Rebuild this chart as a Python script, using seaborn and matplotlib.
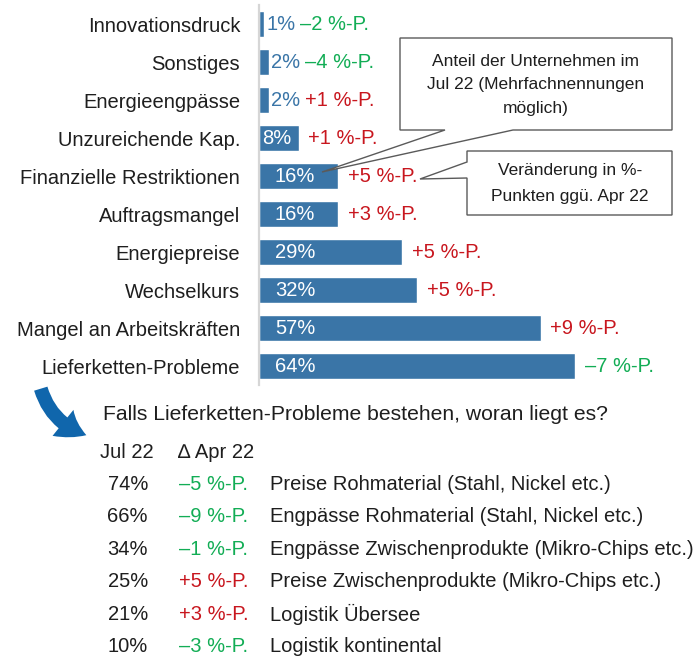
import matplotlib
matplotlib.use("Agg")
import matplotlib.pyplot as plt
import seaborn as sns
import pandas as pd
from matplotlib.patches import Polygon, FancyArrowPatch

# Hemmnisse (Anteil Jul 22 und Veraenderung ggue. Apr 22)
categories = ["Innovationsdruck", "Sonstiges", "Energieengpässe", "Unzureichende Kap.",
              "Finanzielle Restriktionen", "Auftragsmangel", "Energiepreise", "Wechselkurs",
              "Mangel an Arbeitskräften", "Lieferketten-Probleme"]
shares = [1, 2, 2, 8, 16, 16, 29, 32, 57, 64]
changes = [-2, -4, 1, 1, 5, 3, 5, 5, 9, -7]

# Ursachen der Lieferketten-Probleme
sub_labels = ["Preise Rohmaterial (Stahl, Nickel etc.)",
              "Engpässe Rohmaterial (Stahl, Nickel etc.)",
              "Engpässe Zwischenprodukte (Mikro-Chips etc.)",
              "Preise Zwischenprodukte (Mikro-Chips etc.)",
              "Logistik Übersee",
              "Logistik kontinental"]
sub_shares = [74, 66, 34, 25, 21, 10]
sub_changes = [-5, -9, -1, 5, 3, -3]

BLUE = "#3A75A7"
GREEN = "#12AD55"
RED = "#C8161E"
DARK = "#1E1E1E"
W, H = 700, 657
FS = 14.5


def fx(x):
    return x / W


def fy(y):
    return 1 - y / H


def fmt_change(c):
    return ("+" if c > 0 else "–") + f"{abs(c)} %-P."


sns.set_theme(style="white")
plt.rcParams['font.family'] = ['Liberation Sans', 'DejaVu Sans']

fig = plt.figure(figsize=(7, 6.57), dpi=100)
ax = fig.add_axes([fx(259), fy(385), 441 / W, 380 / H])

df = pd.DataFrame({"category": categories, "share": shares})
sns.barplot(data=df, x="share", y="category", orient="h", color=BLUE,
            saturation=1, width=0.66, ax=ax)
ax.set_xlim(0, 441 / 4.94)
ax.set_ylim(9.5, -0.5)
ax.set_xlabel("")
ax.set_ylabel("")
ax.set_xticks([])
ax.tick_params(axis="y", length=0, pad=13.5, labelsize=FS, labelcolor=DARK)
for lbl in ax.get_yticklabels():
    lbl.set_verticalalignment("center_baseline")
for s in ["top", "right", "bottom"]:
    ax.spines[s].set_visible(False)
ax.spines["left"].set_color("#D6D6D6")
ax.spines["left"].set_linewidth(1.6)

for i, (v, c) in enumerate(zip(shares, changes)):
    col = GREEN if c < 0 else RED
    y = i - 0.03
    if v < 5:
        ax.text(v + 0.5, y, f"{v}%", color=BLUE, fontsize=FS, va="center_baseline", ha="left")
        ax.text(v + 7.3, y, fmt_change(c), color=col, fontsize=FS, va="center_baseline", ha="left")
    else:
        xin = 3.2 if v > 10 else 0.6
        ax.text(xin, y, f"{v}%", color="white", fontsize=FS, va="center_baseline", ha="left")
        ax.text(v + 2.0, y, fmt_change(c), color=col, fontsize=FS, va="center_baseline", ha="left")

# Callout-Kaesten
box1 = [(400, 38), (672, 38), (672, 130), (513, 130), (322, 172), (445, 130), (400, 130)]
box2 = [(467, 151), (672, 151), (672, 215), (467, 215), (467, 178), (420, 179), (467, 162)]
for pts in (box1, box2):
    fig.add_artist(Polygon([(fx(x), fy(y)) for x, y in pts], closed=True,
                           transform=fig.transFigure, facecolor="white",
                           edgecolor="#5A5A5A", lw=1.0, zorder=5))
for j, line in enumerate(["Anteil der Unternehmen im", "Jul 22 (Mehrfachnennungen", "möglich)"]):
    fig.text(fx(536), fy(60 + j * 23.5), line, ha="center", va="center_baseline",
             fontsize=12.5, color=DARK, zorder=6)
for j, line in enumerate(["Veränderung in %-", "Punkten ggü. Apr 22"]):
    fig.text(fx(570), fy(169 + j * 26), line, ha="center", va="center_baseline",
             fontsize=12.5, color=DARK, zorder=6)

# geschwungener Pfeil
arrow = FancyArrowPatch((fx(40), fy(386)), (fx(89), fy(436)), transform=fig.transFigure,
                        connectionstyle="arc3,rad=0.28",
                        arrowstyle="simple,head_width=1.2,head_length=0.95,tail_width=0.5",
                        mutation_scale=20, color="#1066AC", lw=0)
fig.add_artist(arrow)

# Tabelle unten
fig.text(fx(103), fy(412), "Falls Lieferketten-Probleme bestehen, woran liegt es?",
         fontsize=15.2, color=DARK, va="center_baseline", ha="left")
fig.text(fx(100), fy(451), "Jul 22", fontsize=FS, color=DARK, va="center_baseline", ha="left")
fig.text(fx(178), fy(451), "∆ Apr 22", fontsize=FS, color=DARK, va="center_baseline", ha="left")
for i, (s, c, lab) in enumerate(zip(sub_shares, sub_changes, sub_labels)):
    y = 482 + i * 32.6
    fig.text(fx(148), fy(y), f"{s}%", fontsize=FS, color=DARK, va="center_baseline", ha="right")
    fig.text(fx(179), fy(y), fmt_change(c), fontsize=FS,
             color=GREEN if c < 0 else RED, va="center_baseline", ha="left")
    fig.text(fx(270), fy(y), lab, fontsize=FS, color=DARK, va="center_baseline", ha="left")

fig.savefig("out.png", dpi=100)
